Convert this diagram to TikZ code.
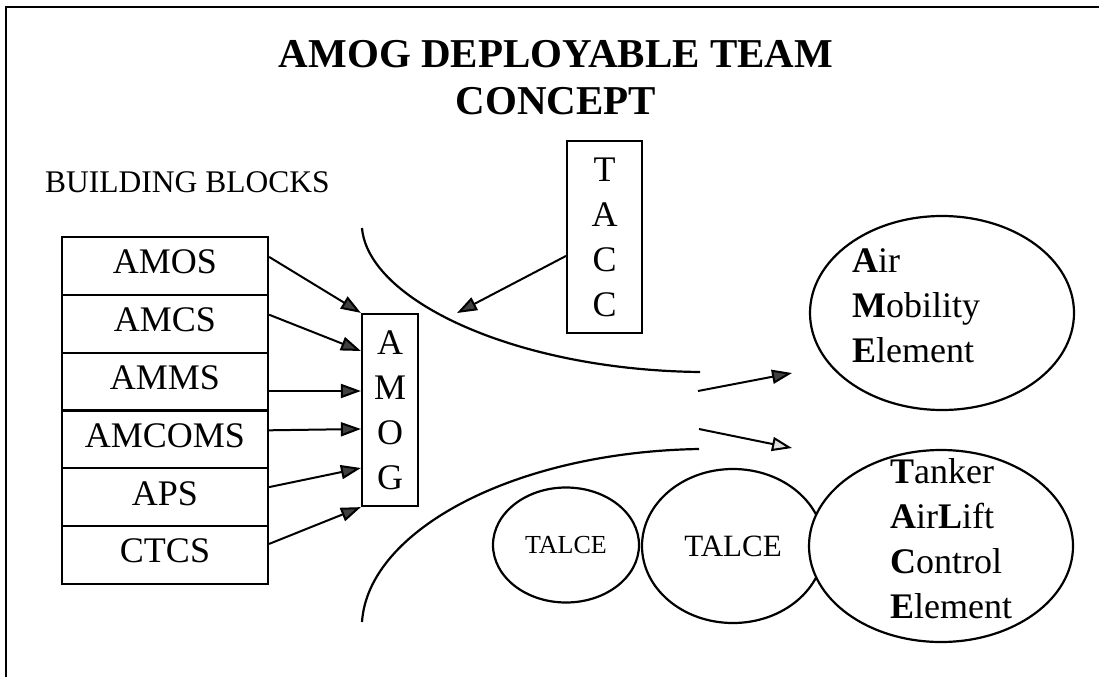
\documentclass[tikz,border=0pt]{standalone}
\usepackage{fontspec}
\setmainfont{Liberation Serif}
\usepackage{tikz}
\usetikzlibrary{
	arrows.meta,
	shapes.geometric,
	positioning
}
\tikzset{
	blockrow/.style={draw, line width=2.2pt, minimum width=206pt, minimum height=57.8pt, inner sep=0pt, text height=24pt, text depth=8pt, font=\fontsize{36}{45}\selectfont},
	tallbox/.style={draw, line width=2.2pt, align=center, inner sep=0pt, font=\fontsize{36}{45}\selectfont},
	feed/.style={line width=2pt, -{Triangle[length=20pt,width=14pt,fill=darkgray]}},
	paletip/.style={line width=2pt, -{Triangle[length=20pt,width=14pt,fill=gray!25]}},
	unit/.style={draw, ellipse, line width=2.2pt, inner sep=0pt},
	elemtext/.style={align=left, inner sep=0pt, anchor=north west, font=\fontsize{36}{45}\selectfont}
}

\begin{document}
\begin{tikzpicture}[x=1pt, y=-1pt]
		\useasboundingbox (0,0) rectangle (1099,677);
		% frame
		\draw[line width=2.5pt] (6,677) -- (6,7) -- (1099,7);
		
		\node[anchor=north, align=center, inner sep=0pt, font=\fontsize{41}{47}\selectfont\bfseries] (title) at (556,40) {AMOG DEPLOYABLE TEAM\\CONCEPT};
		\node[anchor=base west, inner sep=0pt, font=\fontsize{31.5}{36}\selectfont] (bblocks) at (45,192) {BUILDING BLOCKS};
		
		% building blocks
		\node[blockrow] (amos) at (165,265.9) {AMOS};
		\node[blockrow] (amcs) at (165,323.7) {AMCS};
		\node[blockrow] (amms) at (165,381.5) {AMMS};
		\node[blockrow] (amcoms) at (165,439.3) {AMCOMS};
		\node[blockrow] (aps) at (165,497.1) {APS};
		\node[blockrow] (ctcs) at (165,554.9) {CTCS};
		
		\node[tallbox, minimum width=56pt, minimum height=192pt] (amog) at (390,410) {A\\M\\O\\G};
		\node[tallbox, minimum width=75pt, minimum height=192pt] (tacc) at (604.5,237) {T\\A\\C\\C};
		
		\draw[feed] ([yshift=9pt]amos.east) -- (amog.north west);
		\draw[feed] ([yshift=9pt]amcs.east) -- ([yshift=59pt]amog.west);
		\draw[feed] ([yshift=-9.5pt]amms.east) -- ([yshift=19pt]amog.west);
		\draw[feed] ([yshift=9pt]amcoms.east) -- ([yshift=-19pt]amog.west);
		\draw[feed] ([yshift=10pt]aps.east) -- ([yshift=-58pt]amog.west);
		\draw[feed] ([yshift=11pt]ctcs.east) -- (amog.south west);
		
		\coordinate (mouth) at (457,313);
		\draw[feed] ([yshift=-19pt]tacc.west) -- (mouth);
		
		% funnel
		\draw[line width=2.2pt] (362,228) .. controls (368,300) and (515,370) .. (700,372);
		\draw[line width=2.2pt] (699,449) .. controls (515,452) and (368,530) .. (362,622);
		
		\coordinate (upS) at (698,391);
		\coordinate (upE) at (792,373);
		\coordinate (loS) at (699,429);
		\coordinate (loE) at (792,448);
		\draw[feed] (upS) -- (upE);
		\draw[paletip] (loS) -- (loE);
		
		% elements
		\node[unit, minimum width=264pt, minimum height=194pt] (ame) at (942,313) {};
		\node[elemtext] (ameText) at (852,248) {\textbf{A}ir\\\textbf{M}obility\\\textbf{E}lement};
		
		\node[unit, minimum width=146pt, minimum height=115pt, font=\fontsize{26}{30}\selectfont] (talceA) at (566,545) {TALCE};
		\node[unit, fill=white, minimum width=182pt, minimum height=154pt, font=\fontsize{31}{36}\selectfont] (talceB) at (733,546) {TALCE};
		\node[unit, fill=white, minimum width=264pt, minimum height=192pt] (talce) at (941,546) {};
		\node[elemtext] (talceText) at (890,458) {\textbf{T}anker\\\textbf{A}ir\textbf{L}ift\\\textbf{C}ontrol\\\textbf{E}lement};
	\end{tikzpicture}
\end{document}
